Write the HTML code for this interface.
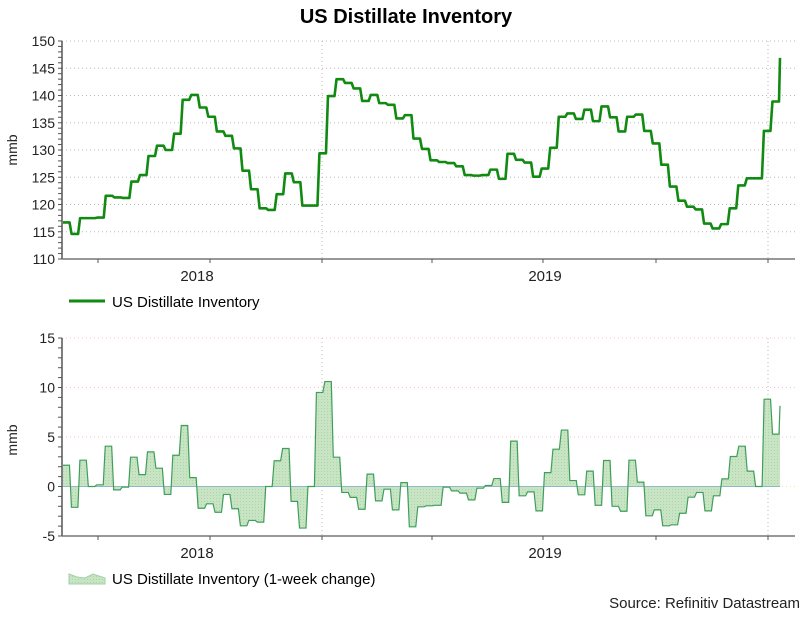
<!DOCTYPE html>
<html><head><meta charset="utf-8">
<style>
html,body{margin:0;padding:0;background:#fff;}
body{width:812px;height:612px;overflow:hidden;font-family:"Liberation Sans",Arial,sans-serif;}
svg text{font-family:"Liberation Sans",Arial,sans-serif;}
</style></head>
<body>
<svg id="chart" width="812" height="612" viewBox="0 0 812 612" xmlns="http://www.w3.org/2000/svg">
<defs>
<pattern id="dots" width="3" height="3" patternUnits="userSpaceOnUse">
<rect width="3" height="3" fill="#c9e4c3"/><rect width="1" height="1" fill="#a8d4b0"/>
</pattern>
</defs>
<text x="406" y="23" text-anchor="middle" font-size="20" font-weight="bold" fill="#000">US Distillate Inventory</text>
<g id="top"></g>
<g id="bot"></g>
<g>
<line x1="69" y1="301" x2="105" y2="301" stroke="#118a11" stroke-width="3"/>
<text x="112" y="307" font-size="15" fill="#000">US Distillate Inventory</text>
</g>
<g>
<polygon points="69,584 69,574 77,577 85,578 93,574 105,578 105,584" fill="url(#dots)" stroke="#9fd0a8" stroke-width="1"/>
<text x="112" y="584" font-size="15" fill="#000">US Distillate Inventory (1-week change)</text>
</g>
<text x="800" y="608" text-anchor="end" font-size="15" fill="#222">Source: Refinitiv Datastream</text>
</svg>
<script>
const levels = [116.7,114.6,117.5,117.5,117.6,121.6,121.3,121.2,124.2,125.4,128.9,130.8,130.0,133.0,139.2,140.1,
137.8,136.1,133.4,132.6,130.3,126.2,122.8,119.3,119.0,121.9,125.7,124.1,119.8,119.8,
129.4,139.9,143.0,142.3,141.3,139.0,140.1,138.6,138.3,135.8,136.4,132.1,130.2,
128.1,127.8,127.6,127.0,125.4,125.3,125.4,
126.4,124.7,129.3,128.2,127.7,125.1,126.6,130.4,
136.1,136.7,135.7,137.4,135.3,138.0,136.0,133.4,
136.1,136.5,133.5,131.2,127.3,123.3,120.7,119.6,
119.1,116.5,115.6,116.4,119.3,123.5,124.8,124.8,
133.5,138.9,146.9];
const changes = [2.15,-2.1,2.66,0,0.17,4.07,-0.34,-0.07,2.96,1.2,3.5,1.85,-0.8,3.16,6.16,0.9,
-2.2,-1.75,-2.6,-0.8,-2.25,-3.97,-3.43,-3.6,0,2.6,3.84,-1.5,
-4.2,0,9.5,10.6,2.96,-0.6,-1.1,-2.3,1.25,-1.45,-0.27,-2.36,0.4,-4.07,-2.05,-1.95,
-1.9,-0.07,-0.44,-0.67,-1.35,-0.17,0.1,0.8,-1.6,
4.58,-0.94,-0.54,-2.46,1.4,3.77,5.7,0.6,
-0.84,1.55,-1.9,2.63,-2.0,-2.5,2.66,0.44,
-2.96,-2.36,-3.97,-3.87,-2.7,-1.08,-0.6,-2.46,
-0.94,0.77,3.03,4.07,1.55,0,8.82,5.29,8.15];
const topTicks = [110,115,120,125,130,135,140,145,150];
const botTicks = [-5,0,5,10,15];
const yearLabels = ["2018","2019"];

const NS="http://www.w3.org/2000/svg";
function mk(p,tag,attrs){const e=document.createElementNS(NS,tag);for(const k in attrs)e.setAttribute(k,attrs[k]);p.appendChild(e);return e;}
const X0=62,X1=795,XEND=780;
function yTop(v){return 41+(150-v)*(218/40);}
function yBot(v){return 338+(15-v)*(198/20);}
const qTicks=[98,210,322,432,543,656,768];
const yearX=[197,545];

function axes(g,yf,ticks,minor,lo,hi,yAxisTop,yAxisBot,gridColor,labelY,titleY){
  ticks.forEach(t=>{
    if(t!==lo){const l=mk(g,'line',{x1:X0,x2:X1,y1:yf(t),y2:yf(t),stroke:(t===0?'#e8e890':gridColor),'stroke-dasharray':'1,3','stroke-width':1});
    
    }
    const tx=mk(g,'text',{x:55,y:yf(t)+5,'text-anchor':'end','font-size':14,fill:'#222'});
    tx.textContent=t;
    
    
  });
  for(let v=lo;v<=hi;v+=minor){mk(g,'line',{x1:X0-4,x2:X0,y1:yf(v),y2:yf(v),stroke:'#555'});}
  [322,768].forEach(x=>{const l=mk(g,'line',{x1:x,x2:x,y1:yAxisTop,y2:yAxisBot,stroke:'#bbb','stroke-dasharray':'1,3'});
    
    });
  const ya=mk(g,'line',{x1:X0,x2:X0,y1:yAxisTop,y2:yAxisBot,stroke:'#555','stroke-width':1.5});
  
  
  const xa=mk(g,'line',{x1:X0,x2:X1,y1:yAxisBot,y2:yAxisBot,stroke:'#777','stroke-width':1.5});
  
  
  qTicks.forEach(x=>mk(g,'line',{x1:x,x2:x,y1:yAxisBot,y2:yAxisBot+4,stroke:'#555'}));
  yearLabels.forEach((s,i)=>{const t=mk(g,'text',{x:yearX[i],y:labelY,'text-anchor':'middle','font-size':15,fill:'#222'});
    t.textContent=s;
    
    });
  const yt=mk(g,'text',{x:17,y:titleY,'text-anchor':'middle','font-size':14,fill:'#222',transform:`rotate(-90 17 ${titleY})`});
  yt.textContent='mmb';
  
  
}
const gT=document.getElementById('top'),gB=document.getElementById('bot');
axes(gT,yTop,topTicks,1,110,150,41,259,'#b8b8b8',281,150);
axes(gB,yBot,botTicks,1,-5,15,338,536,'#f4c0d0',558,440);

function stepPts(arr,yf){
  const pts=[];const n=arr.length;
  const step=(XEND-X0)/(n-1);
  const xw=i=>X0+i*step;
  for(let i=0;i<n-1;i++){pts.push([xw(i)+1,yf(arr[i])]);pts.push([xw(i+1)-1,yf(arr[i])]);}
  pts.push([xw(n-1),yf(arr[n-1])]);
  return pts;
}
const tp=stepPts(levels,yTop);
const tl=mk(gT,'polyline',{points:tp.map(p=>p.join(',')).join(' '),fill:'none',stroke:'#118a11','stroke-width':2.6,'stroke-linejoin':'round'});



const bp=stepPts(changes,yBot);
const z=yBot(0);
const area=mk(gB,'polygon',{points:[[bp[0][0],z],...bp,[bp[bp.length-1][0],z]].map(p=>p.join(',')).join(' '),fill:'url(#dots)',stroke:'none'});


const zl=mk(gB,'line',{x1:bp[0][0],x2:bp[bp.length-1][0],y1:z,y2:z,stroke:'#8fb8c8','stroke-width':1});


const bl=mk(gB,'polyline',{points:bp.map(p=>p.join(',')).join(' '),fill:'none',stroke:'#3f9e5a','stroke-width':1.2});


</script>
</body></html>
